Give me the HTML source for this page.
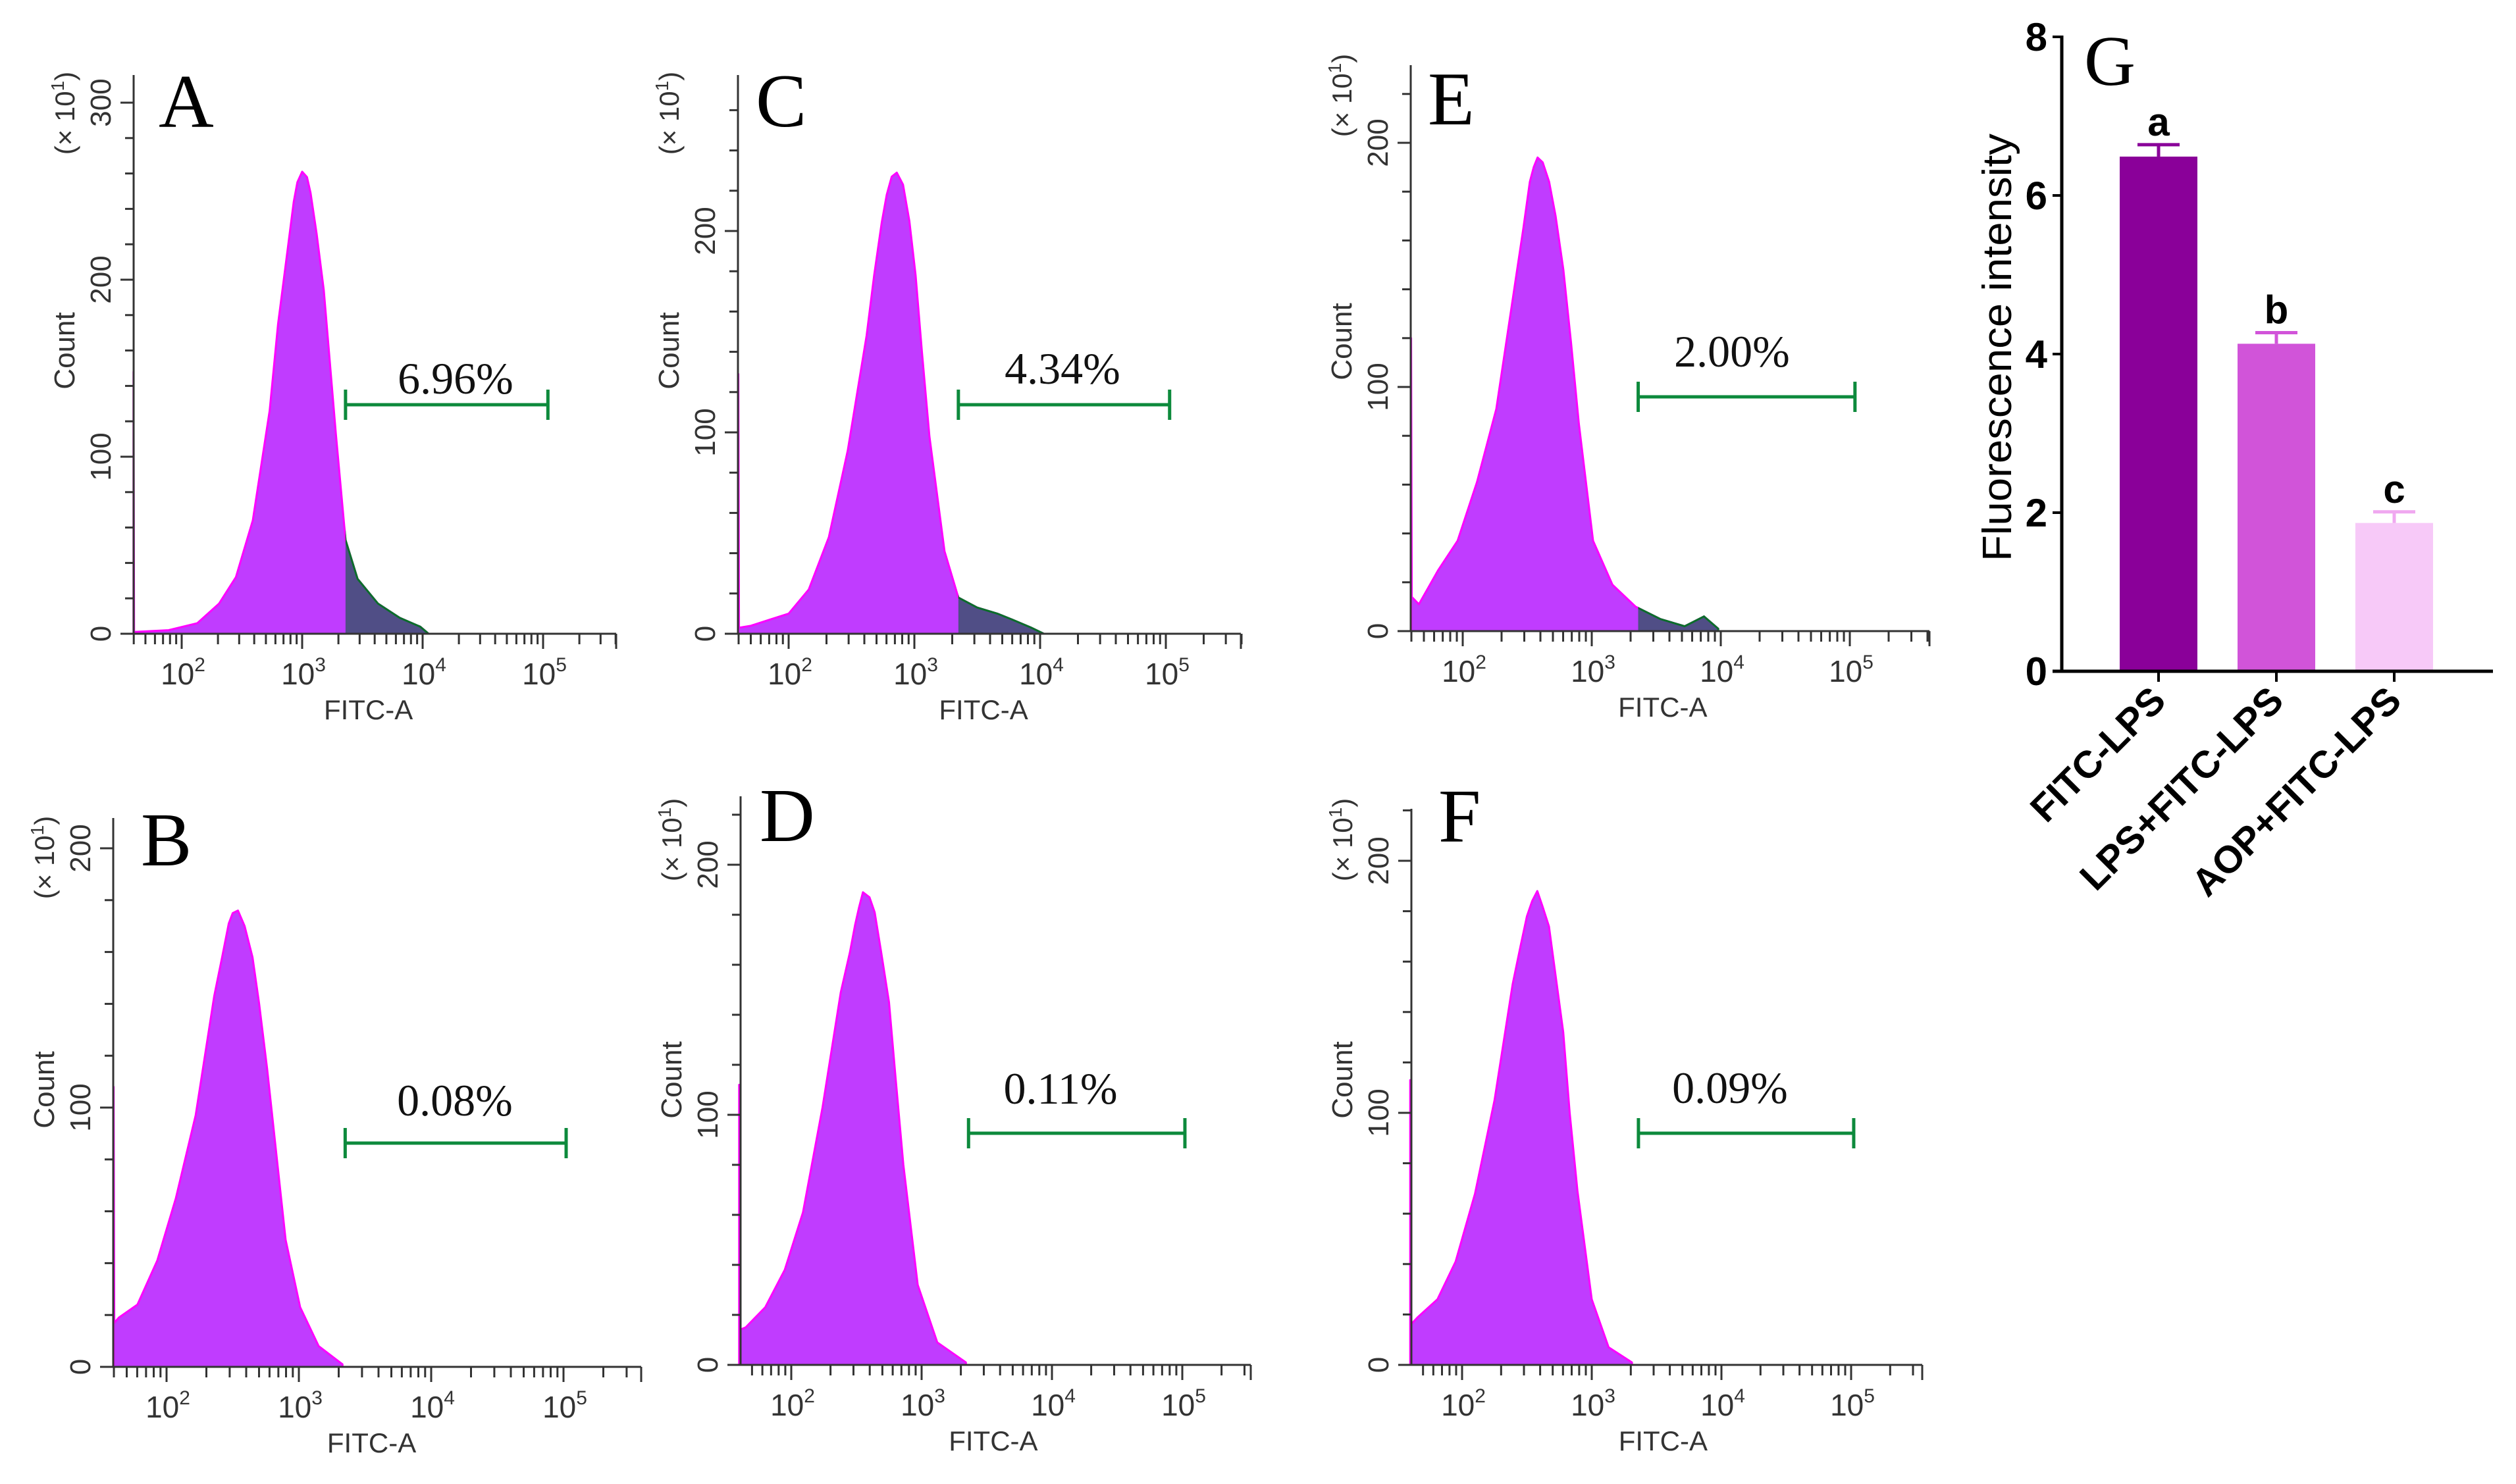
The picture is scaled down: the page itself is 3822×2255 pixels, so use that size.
<!DOCTYPE html>
<html><head><meta charset="utf-8">
<style>
html,body{margin:0;padding:0;background:#fff;}
svg{display:block;}
</style></head>
<body>
<svg id="fig" xmlns="http://www.w3.org/2000/svg" width="3822" height="2255" viewBox="0 0 3822 2255">
<rect width="3822" height="2255" fill="#fff"/>
</svg>
<script>
// ---- Histogram data (log10 FITC-A, count x10) ----
const logA = [1.60,1.605,1.89,2.13,2.31,2.45,2.59,2.73,2.80,2.87,2.93,2.96,3.0,3.04,3.07,3.12,3.18,3.28,3.36,3.46,3.63,3.81,3.98,4.05];
const cntA = [148,1,2,6,17,32,64,126,175,212,244,255,261,258,249,226,194,113,53,31,17,9,4,0];
const logC = [1.60,1.605,1.70,1.85,2.0,2.16,2.32,2.47,2.62,2.68,2.74,2.78,2.82,2.86,2.91,2.96,3.01,3.06,3.12,3.24,3.35,3.5,3.66,3.78,3.93,4.03];
const cntC = [129,3,4,7,10,22,48,91,148,178,204,218,227,229,223,205,178,140,98,41,18,13,10,7,3,0];
const logE = [1.60,1.605,1.66,1.81,1.96,2.11,2.26,2.41,2.47,2.52,2.55,2.58,2.62,2.67,2.72,2.78,2.84,2.90,3.01,3.16,3.34,3.53,3.72,3.87,3.98];
const cntE = [120,14,11,25,37,61,91,144,165,184,190,194,192,184,170,148,118,85,37,19,10,5,2,6,1];
const logB = [1.60,1.605,1.64,1.78,1.93,2.07,2.22,2.36,2.42,2.47,2.50,2.54,2.59,2.65,2.70,2.76,2.90,3.01,3.15,3.33];
const cntB = [108,17,19,24,41,65,97,143,158,171,175,176,170,158,140,115,49,23,8,1];
const logD = [1.60,1.605,1.65,1.80,1.95,2.09,2.24,2.38,2.45,2.49,2.52,2.55,2.60,2.64,2.69,2.75,2.80,2.86,2.97,3.12,3.34];
const cntD = [112,14,15,23,38,61,103,149,165,176,183,189,187,181,165,145,115,80,32,9,1];
const logF = [1.60,1.605,1.66,1.81,1.95,2.10,2.25,2.39,2.45,2.50,2.54,2.58,2.62,2.67,2.72,2.78,2.83,2.89,3.00,3.13,3.31];
const cntF = [113,16,19,26,41,68,105,151,166,178,184,188,182,174,155,132,100,69,26,7,1];
const gateLabels = ["6.96%","0.08%","4.34%","0.11%","2.00%","0.09%"];
const gateStart = [3.36,3.35,3.35,3.36,3.36,3.36];
const gateEnd = [5.04,5.02,5.03,5.02,5.04,5.02];
const decadeLabels = ["2","3","4","5"];

// ---- Bar chart data ----
const groups = ["FITC-LPS","LPS+FITC-LPS","AOP+FITC-LPS"];
const means = [6.49,4.13,1.87];
const errs = [0.15,0.14,0.14];
const sigLetters = ["a","b","c"];
const yTicksG = [0,2,4,6,8];

const NS="http://www.w3.org/2000/svg";
const svg=document.getElementById('fig');
function el(tag,attrs,parent){const e=document.createElementNS(NS,tag);for(const k in attrs)e.setAttribute(k,attrs[k]);(parent||svg).appendChild(e);return e;}

// layout (positions only)
const panels=[
 {id:'A',logs:logA,cnts:cntA,ax:203,zy:963,top:114,xe:936,l2:276,dec:183,p100:269,ymax:300,gy:615,lx:692,ly:598,Lx:241,Ly:193,cy:533,xy:172,shade:true,g:0},
 {id:'B',logs:logB,cnts:cntB,ax:172,zy:2077,top:1243,xe:974,l2:253,dec:201,p100:394,ymax:200,gy:1737,lx:691,ly:1695,Lx:214,Ly:1315,cy:1656,xy:1303,shade:false,g:1},
 {id:'C',logs:logC,cnts:cntC,ax:1121,zy:963,top:114,xe:1885,l2:1198,dec:191,p100:306,ymax:200,gy:615,lx:1614,ly:583,Lx:1148,Ly:192,cy:533,xy:172,shade:true,g:2},
 {id:'D',logs:logD,cnts:cntD,ax:1125,zy:2074,top:1210,xe:1900,l2:1202,dec:198,p100:380,ymax:200,gy:1722,lx:1611,ly:1677,Lx:1154,Ly:1278,cy:1641,xy:1276,shade:false,g:3},
 {id:'E',logs:logE,cnts:cntE,ax:2143,zy:959,top:99,xe:2931,l2:2222,dec:196,p100:371,ymax:200,gy:603,lx:2631,ly:557,Lx:2169,Ly:189,cy:519,xy:145,shade:true,g:4},
 {id:'F',logs:logF,cnts:cntF,ax:2144,zy:2074,top:1229,xe:2920,l2:2221,dec:197,p100:383,ymax:200,gy:1722,lx:2628,ly:1676,Lx:2185,Ly:1279,cy:1641,xy:1276,shade:false,g:5}
];

panels.forEach(p=>{
  const X=v=>p.l2+(v-2)*p.dec;
  const Y=c=>p.zy-c*p.p100/100;
  const g=el('g',{});  
  let d='M'+X(p.logs[0])+','+p.zy;
  p.logs.forEach((v,i)=>{d+=' L'+X(v).toFixed(1)+','+Y(p.cnts[i]).toFixed(1);});
  d+=' L'+X(p.logs[p.logs.length-1]).toFixed(1)+','+p.zy+' Z';
  const area=el('path',{d:d,fill:'#c03cff',stroke:'#ff00ff','stroke-width':3,'stroke-linejoin':'round'},g);
  
  
  if(p.shade){
    const cid='clip'+p.id;
    const cp=el('clipPath',{id:cid},g);
    el('rect',{x:X(gateStart[p.g]),y:0,width:2000,height:2255},cp);
    const sh=el('path',{d:d,fill:'#504e86',stroke:'#0b6e2a','stroke-width':3,'clip-path':'url(#'+cid+')'},g);
    
    
  }
  const axc='#333';
  el('line',{x1:p.ax,y1:p.top,x2:p.ax,y2:p.zy,stroke:axc,'stroke-width':3},g);
  el('line',{x1:p.ax-20,y1:p.zy,x2:p.xe,y2:p.zy,stroke:axc,'stroke-width':3},g);
  for(let c=0;c<=p.ymax+60;c+=20){
    const y=Y(c); if(y<p.top) break;
    const major=c%100===0;
    el('line',{x1:p.ax-(major?20:13),y1:y,x2:p.ax,y2:y,stroke:axc,'stroke-width':3},g);
    if(major){
      const t=el('text',{x:0,y:0,transform:`translate(${p.ax-35},${y}) rotate(-90)`,'text-anchor':'middle','font-family':'Liberation Sans, sans-serif','font-size':44,fill:'#333'},g);
      t.textContent=String(c);
      
      
    }
  }
  for(let dcd=1;dcd<=5;dcd++){
    for(let m=1;m<=9;m++){
      const v=dcd+Math.log10(m); const x=X(v);
      if(x<p.ax-1||x>p.xe+1) continue;
      el('line',{x1:x,y1:p.zy,x2:x,y2:p.zy+(m===1?23:16),stroke:axc,'stroke-width':3},g);
    }
  }
  el('line',{x1:p.xe,y1:p.zy,x2:p.xe,y2:p.zy+23,stroke:axc,'stroke-width':3},g);
  decadeLabels.forEach(e=>{
    const x=X(+e);
    const t=el('text',{x:x+2,y:p.zy+77,'text-anchor':'middle','font-family':'Liberation Sans, sans-serif','font-size':46,fill:'#333'},g);
    t.textContent='10';
    const s=el('tspan',{dy:-20,'font-size':30},t); s.textContent=e;
    
    
  });
  const xt=el('text',{x:(p.l2+p.dec*1.55),y:p.zy+130,'text-anchor':'middle','font-family':'Liberation Sans, sans-serif','font-size':42,fill:'#333'},g);
  xt.textContent='FITC-A';
  
  
  const yt=el('text',{x:0,y:0,transform:`translate(${p.ax-90},${p.cy}) rotate(-90)`,'text-anchor':'middle','font-family':'Liberation Sans, sans-serif','font-size':44,fill:'#333'},g);
  yt.textContent='Count';
  
  
  const sc=el('text',{x:0,y:0,transform:`translate(${p.ax-90},${p.xy}) rotate(-90)`,'text-anchor':'middle','font-family':'Liberation Sans, sans-serif','font-size':42,fill:'#333'},g);
  sc.textContent='(\u00d7 10';
  const ss=el('tspan',{dy:-16,'font-size':28},sc); ss.textContent='1';
  const sp=el('tspan',{dy:16},sc); sp.textContent=')';
  
  
  const gx1=X(gateStart[p.g]), gx2=X(gateEnd[p.g]);
  const gate=el('g',{stroke:'#0d8a3c','stroke-width':5},g);
  
  
  el('line',{x1:gx1,y1:p.gy,x2:gx2,y2:p.gy},gate);
  el('line',{x1:gx1,y1:p.gy-23,x2:gx1,y2:p.gy+23},gate);
  el('line',{x1:gx2,y1:p.gy-23,x2:gx2,y2:p.gy+23},gate);
  const gl=el('text',{x:p.lx,y:p.ly,'text-anchor':'middle','font-family':'Liberation Serif, serif','font-size':68,fill:'#111'},g);
  gl.textContent=gateLabels[p.g];
  
  
  const L=el('text',{x:p.Lx,y:p.Ly,'font-family':'Liberation Serif, serif','font-size':116,fill:'#000'},g);
  L.textContent=p.id;
  
  
});

// ---- Bar chart G ----
(function(){
  const ax=3132, zy=1020, ppu=120.5, xe=3787, c0=3279, step=179, bw=118;
  const Y=v=>zy-v*ppu;
  const X=i=>c0+i*step;
  const colors=['#8a0099','#d154d9','#f7c9f8'];
  const g=el('g',{});  
  means.forEach((m,i)=>{
    const b=el('rect',{x:X(i)-bw/2,y:Y(m),width:bw,height:zy-Y(m),fill:colors[i]},g);
    
    
    const eb=el('g',{stroke:colors[i]==='#f7c9f8'?'#f0a8f0':colors[i],'stroke-width':5},g);
    
    
    el('line',{x1:X(i),y1:Y(m),x2:X(i),y2:Y(m+errs[i])},eb);
    el('line',{x1:X(i)-32,y1:Y(m+errs[i]),x2:X(i)+32,y2:Y(m+errs[i])},eb);
    const s=el('text',{x:X(i),y:Y(m+errs[i])-14,'text-anchor':'middle','font-family':'Liberation Sans, sans-serif','font-weight':'bold','font-size':60,fill:'#000'},g);
    s.textContent=sigLetters[i];
    
    
    el('line',{x1:X(i),y1:zy,x2:X(i),y2:zy+16,stroke:'#000','stroke-width':4},g);
    const t=el('text',{x:0,y:0,transform:`translate(${X(i)+14},${zy+48}) rotate(-45)`,'text-anchor':'end','font-family':'Liberation Sans, sans-serif','font-weight':'bold','font-size':58,fill:'#000'},g);
    t.textContent=groups[i];
    
    
  });
  el('line',{x1:ax,y1:Y(8)-2,x2:ax,y2:zy,stroke:'#000','stroke-width':5},g);
  el('line',{x1:ax-14,y1:zy,x2:xe,y2:zy,stroke:'#000','stroke-width':5},g);
  yTicksG.forEach(v=>{
    el('line',{x1:ax-14,y1:Y(v),x2:ax,y2:Y(v),stroke:'#000','stroke-width':4},g);
    const t=el('text',{x:ax-22,y:Y(v)+21,'text-anchor':'end','font-family':'Liberation Sans, sans-serif','font-weight':'bold','font-size':60,fill:'#000'},g);
    t.textContent=String(v);
    
    
  });
  const yt=el('text',{x:0,y:0,transform:'translate(3055,528) rotate(-90)','text-anchor':'middle','font-family':'Liberation Sans, sans-serif','font-size':62,fill:'#000',textLength:650,lengthAdjust:'spacingAndGlyphs'},g);
  yt.textContent='Fluorescence intensity';
  
  
  const L=el('text',{x:3166,y:129,'font-family':'Liberation Serif, serif','font-size':108,fill:'#000'},g);
  L.textContent='G';
  
  
})();
</script>
</body></html>
